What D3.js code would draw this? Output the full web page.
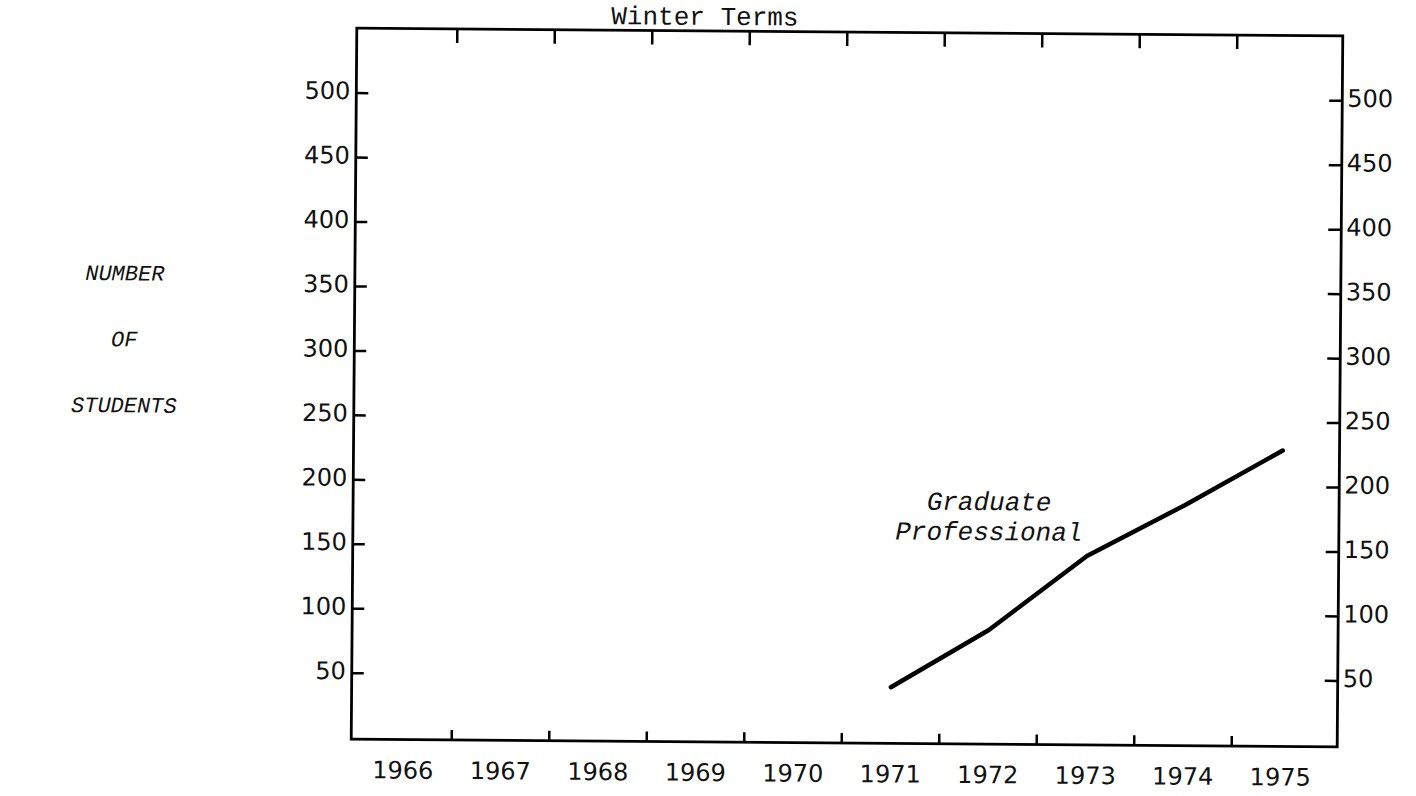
<!DOCTYPE html>
<html>
<head>
<meta charset="utf-8">
<script src="https://cdn.jsdelivr.net/npm/d3@7"></script>
<style>
  body { margin: 0; background: #fff; }
  svg { display: block; }
</style>
</head>
<body>
<div class="chart"></div>
<script>
const years = ["1966", "1967", "1968", "1969", "1970", "1971", "1972", "1973", "1974", "1975"];
const yTicks = [50, 100, 150, 200, 250, 300, 350, 400, 450, 500];
const gradYears = ["1971", "1972", "1973", "1974", "1975"];
const gradValues = [42, 87, 145, 185, 228];

const width = 1416;
const height = 796;

// frame of the plot
const fLeft = 354, fRight = 1340, fTop = 32, fBottom = 743;

const svg = d3.select(".chart")
  .append("svg")
  .attr("width", width)
  .attr("height", height);

// the scan is a little crooked, so tilt everything the same way
const g = svg.append("g")
  .attr("transform", "rotate(0.45, 847, 388)");

const x = d3.scaleBand()
  .domain(years)
  .range([357, 1332]);

const y = d3.scaleLinear()
  .domain([0, 550])
  .range([741, 32]);

const numFont = "'DejaVu Sans', sans-serif";
const typeFont = "'Liberation Mono', 'DejaVu Sans Mono', monospace";

// left axis, ticks pointing in
const yLeft = g.append("g")
  .attr("transform", `translate(${fLeft},0)`)
  .call(d3.axisLeft(y).tickValues(yTicks).tickSize(-12).tickPadding(6));

// right axis, ticks pointing in
const yRight = g.append("g")
  .attr("transform", `translate(${fRight},0)`)
  .call(d3.axisRight(y).tickValues(yTicks).tickSize(-13).tickPadding(5));

[yLeft, yRight].forEach(ax => {
  ax.select(".domain").remove();
  ax.selectAll(".tick line").attr("stroke", "#000").attr("stroke-width", 2.5);
  ax.selectAll(".tick text")
    .attr("fill", "#111")
    .attr("dy", "0.25em")
    .style("font-family", numFont)
    .style("font-size", "24px");
});

// year labels under the bottom edge
const xAxis = g.append("g")
  .attr("transform", `translate(0,${fBottom})`)
  .call(d3.axisBottom(x).tickSize(0).tickPadding(22));
xAxis.select(".domain").remove();
xAxis.selectAll(".tick text")
  .attr("fill", "#111")
  .style("font-family", numFont)
  .style("font-size", "24px");

// year boundary ticks, bottom (up) and top (down)
g.selectAll(".btick")
  .data(years.slice(1))
  .enter()
  .append("line")
  .attr("class", "btick")
  .attr("x1", d => x(d))
  .attr("x2", d => x(d))
  .attr("y1", fBottom)
  .attr("y2", fBottom - 10)
  .attr("stroke", "#000")
  .attr("stroke-width", 2.5);

g.selectAll(".ttick")
  .data(years.slice(1))
  .enter()
  .append("line")
  .attr("class", "ttick")
  .attr("x1", d => x(d))
  .attr("x2", d => x(d))
  .attr("y1", fTop)
  .attr("y2", fTop + 14)
  .attr("stroke", "#000")
  .attr("stroke-width", 2.5);

// frame
g.append("rect")
  .attr("x", fLeft)
  .attr("y", fTop)
  .attr("width", fRight - fLeft)
  .attr("height", fBottom - fTop)
  .attr("fill", "none")
  .attr("stroke", "#000")
  .attr("stroke-width", 2.8);

// title
g.append("text")
  .attr("x", 702)
  .attr("y", fTop - 6)
  .attr("text-anchor", "middle")
  .style("font-family", typeFont)
  .style("font-size", "26px")
  .attr("fill", "#111")
  .text("Winter Terms");

// y axis title
const yTitle = ["NUMBER", "OF", "STUDENTS"];
g.selectAll(".ytitle")
  .data(yTitle)
  .enter()
  .append("text")
  .attr("class", "ytitle")
  .attr("x", 124)
  .attr("y", (d, i) => 286 + i * 66)
  .attr("text-anchor", "middle")
  .style("font-family", typeFont)
  .style("font-style", "italic")
  .style("font-size", "22px")
  .attr("fill", "#111")
  .text(d => d);

// graduate professional line
const line = d3.line()
  .x((d, i) => x(gradYears[i]) + x.bandwidth() / 2)
  .y(d => y(d));

g.append("path")
  .datum(gradValues)
  .attr("d", line)
  .attr("fill", "none")
  .attr("stroke", "#000")
  .attr("stroke-width", 4.5)
  .attr("stroke-linecap", "round")
  .attr("stroke-linejoin", "round");

g.selectAll(".lbl")
  .data(["Graduate", "Professional"])
  .enter()
  .append("text")
  .attr("class", "lbl")
  .attr("x", 990)
  .attr("y", (d, i) => 509 + i * 30)
  .attr("text-anchor", "middle")
  .style("font-family", typeFont)
  .style("font-style", "italic")
  .style("font-size", "26px")
  .attr("fill", "#111")
  .text(d => d);
</script>
</body>
</html>
